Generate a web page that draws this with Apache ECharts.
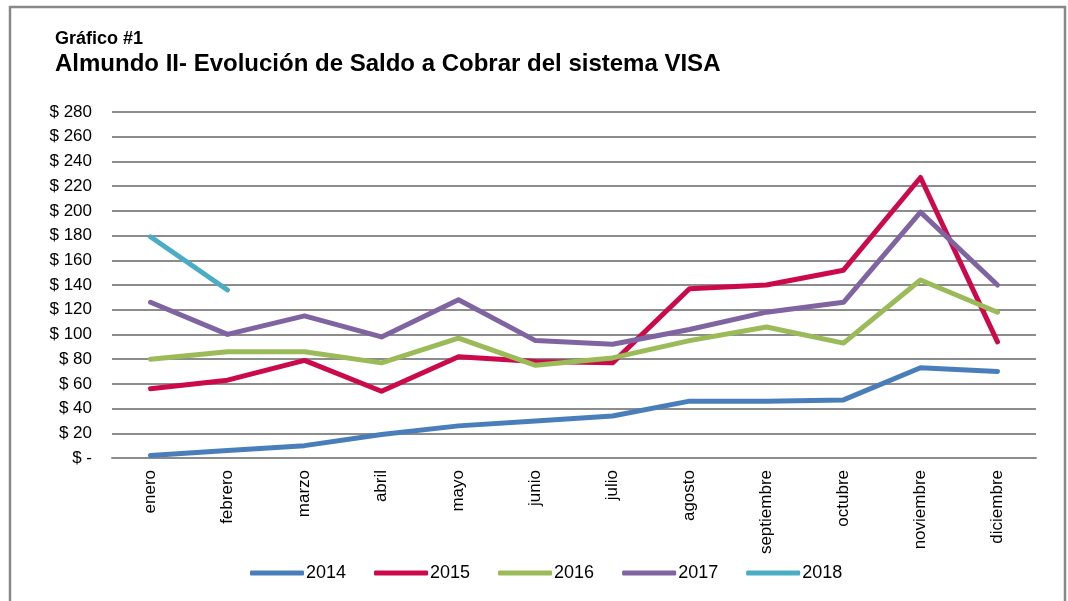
<!DOCTYPE html>
<html>
<head>
<meta charset="utf-8">
<script src="https://cdn.jsdelivr.net/npm/echarts@6/dist/echarts.min.js"></script>
<style>
  html, body { margin: 0; padding: 0; background: #fff; }
  #chart { width: 1068px; height: 601px; }
</style>
</head>
<body>
<div id="chart"></div>
<script>
const months = ['enero', 'febrero', 'marzo', 'abril', 'mayo', 'junio', 'julio', 'agosto', 'septiembre', 'octubre', 'noviembre', 'diciembre']
const years = ['2014', '2015', '2016', '2017', '2018']
const v2014 = [2, 6, 10, 19, 26, 30, 34, 46, 46, 47, 73, 70]
const v2015 = [56, 63, 79, 54, 82, 78, 77, 137, 140, 152, 227, 94]
const v2016 = [80, 86, 86, 77, 97, 75, 81, 95, 106, 93, 144, 118]
const v2017 = [126, 100, 115, 98, 128, 95, 92, 104, 118, 126, 199, 140]
const v2018 = [179, 136]
const colors = ['#4a7ebb', '#cc0a4b', '#9bbb59', '#8064a2', '#4bacc6']

const chart = echarts.init(document.getElementById('chart'))
const font = '"Liberation Sans", Arial, sans-serif'

const allData = [v2014, v2015, v2016, v2017, v2018]

chart.setOption({
    animation: false,
    backgroundColor: '#fff',
    textStyle: { fontFamily: font },
    title: [
        {
            text: 'Gráfico #1',
            left: 55, top: 30, padding: 0,
            textStyle: { fontSize: 18, fontWeight: 'bold', color: '#000', fontFamily: font },
        },
        {
            text: 'Almundo II- Evolución de Saldo a Cobrar del sistema VISA',
            left: 55, top: 52, padding: 0,
            textStyle: { fontSize: 24, fontWeight: 'bold', color: '#000', fontFamily: font },
        },
    ],
    // marco exterior
    graphic: [{
        type: 'rect',
        shape: { x: 10, y: 7, width: 1055, height: 600 },
        style: { fill: 'none', stroke: '#888', lineWidth: 2.5 },
        silent: true,
    }],
    legend: {
        bottom: 14,
        left: 245,
        icon: 'roundRect',
        itemWidth: 54,
        itemHeight: 5,
        itemGap: 28,
        textStyle: { fontSize: 18, color: '#000', fontFamily: font, padding: [0, 0, 0, -3] },
        data: years,
    },
    grid: { left: 112, right: 32, top: 112, bottom: 143, containLabel: false },
    xAxis: {
        type: 'category',
        data: months,
        boundaryGap: true,
        axisTick: { show: false },
        axisLine: { show: true, lineStyle: { color: '#8c8c8c', width: 2 } },
        axisLabel: { rotate: 90, fontSize: 17, color: '#000', margin: 12, interval: 0 },
    },
    yAxis: {
        type: 'value',
        min: 0, max: 280, interval: 20,
        axisLine: { show: false },
        axisTick: { show: false },
        splitLine: { lineStyle: { color: '#8c8c8c', width: 2 } },
        axisLabel: {
            fontSize: 17, color: '#000', margin: 20,
            formatter: v => v === 0 ? '$ -' : '$ ' + v,
        },
    },
    series: years.map((y, i) => ({
        name: y,
        type: 'line',
        data: allData[i],
        symbol: 'none',
        lineStyle: { width: 5, color: colors[i], cap: 'round', join: 'round' },
        itemStyle: { color: colors[i] },
    })),
})
</script>
</body>
</html>
